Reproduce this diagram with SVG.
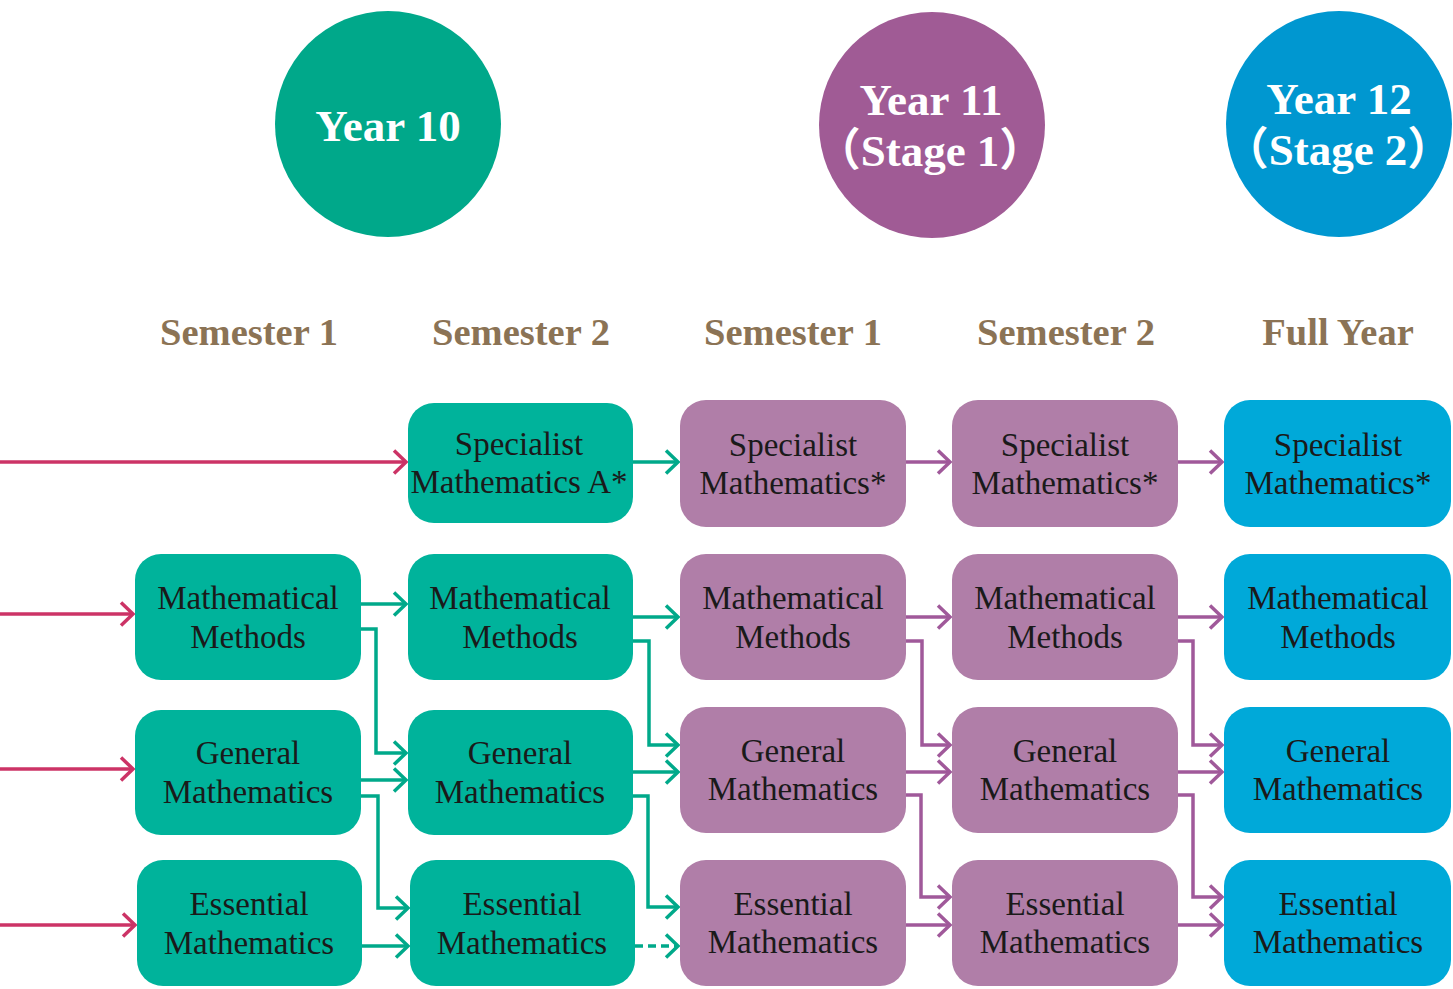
<svg xmlns="http://www.w3.org/2000/svg" width="1453" height="989" viewBox="0 0 1453 989">
<style>
.hdr{font-family:"Liberation Serif","Noto Sans CJK SC",serif;font-weight:bold;font-size:38.5px;fill:#8B7355;text-anchor:middle}
.yr{font-family:"Liberation Serif","Noto Sans CJK SC",serif;font-weight:bold;font-size:45px;fill:#ffffff;text-anchor:middle}
.bt{font-family:"Liberation Serif",serif;font-size:33px;fill:#1a1a1a;text-anchor:middle}
.g{fill:#00B39B}
.p{fill:#B07EA8}
.b{fill:#00A9D9}
.cr{fill:none;stroke:#CC3366;stroke-width:3.5;marker-end:url(#ar)}
.cg{fill:none;stroke:#00A98A;stroke-width:3.5;marker-end:url(#ag)}
.cp{fill:none;stroke:#A0599A;stroke-width:3.5;marker-end:url(#ap)}
</style>
<defs>
<marker id="ar" viewBox="0 0 16 26" refX="14" refY="13" markerWidth="16" markerHeight="26" markerUnits="userSpaceOnUse" orient="auto"><path d="M2,1.5 L14,13 L2,24.5" fill="none" stroke="#CC3366" stroke-width="3.5"/></marker>
<marker id="ag" viewBox="0 0 16 26" refX="14" refY="13" markerWidth="16" markerHeight="26" markerUnits="userSpaceOnUse" orient="auto"><path d="M2,1.5 L14,13 L2,24.5" fill="none" stroke="#00A98A" stroke-width="3.5"/></marker>
<marker id="ap" viewBox="0 0 16 26" refX="14" refY="13" markerWidth="16" markerHeight="26" markerUnits="userSpaceOnUse" orient="auto"><path d="M2,1.5 L14,13 L2,24.5" fill="none" stroke="#A0599A" stroke-width="3.5"/></marker>
</defs>
<rect width="1453" height="989" fill="#ffffff"/>

<g id="year10"><circle cx="388" cy="124" r="113" fill="#00A88A"/><text class="yr" x="388" y="141">Year 10</text></g>
<g id="year11"><circle cx="932" cy="125" r="113" fill="#A05B95"/><text class="yr" x="931" y="115">Year 11</text><text class="yr" x="930" y="166">（Stage 1）</text></g>
<g id="year12"><circle cx="1339" cy="124" r="113" fill="#0097D0"/><text class="yr" x="1339" y="114">Year 12</text><text class="yr" x="1338" y="165">（Stage 2）</text></g>

<g id="headers">
<text class="hdr" x="249" y="345">Semester 1</text>
<text class="hdr" x="521" y="345">Semester 2</text>
<text class="hdr" x="793" y="345">Semester 1</text>
<text class="hdr" x="1066" y="345">Semester 2</text>
<text class="hdr" x="1338" y="345">Full Year</text>
</g>

<g id="connectors">
<path class="cr" d="M0,462 H406"/>
<path class="cr" d="M0,614 H133"/>
<path class="cr" d="M0,769 H133"/>
<path class="cr" d="M0,925 H135"/>

<path class="cg" d="M361,604 H406"/>
<path class="cg" d="M361,629 H376 V753 H406"/>
<path class="cg" d="M361,780 H406"/>
<path class="cg" d="M361,796 H378 V908 H408"/>
<path class="cg" d="M362,946 H408"/>

<path class="cg" d="M633,462 H678"/>
<path class="cg" d="M633,617 H678"/>
<path class="cg" d="M633,641 H649 V745 H678"/>
<path class="cg" d="M633,772 H678"/>
<path class="cg" d="M633,796 H648 V907 H678"/>
<path class="cg" d="M635,946 H678" stroke-dasharray="8,5"/>

<path class="cp" d="M906,462 H950"/>
<path class="cp" d="M906,617 H950"/>
<path class="cp" d="M906,641 H922 V745 H950"/>
<path class="cp" d="M906,772 H950"/>
<path class="cp" d="M906,795 H921 V897 H950"/>
<path class="cp" d="M906,925 H950"/>

<path class="cp" d="M1178,462 H1222"/>
<path class="cp" d="M1178,617 H1222"/>
<path class="cp" d="M1178,641 H1193 V745 H1222"/>
<path class="cp" d="M1178,772 H1222"/>
<path class="cp" d="M1178,795 H1193 V897 H1222"/>
<path class="cp" d="M1178,925 H1222"/>
</g>

<g id="c1-methods"><rect class="g" x="135" y="554" width="226" height="126" rx="26"/><text class="bt" x="248" y="609">Mathematical</text><text class="bt" x="248" y="648">Methods</text></g>
<g id="c1-general"><rect class="g" x="135" y="710" width="226" height="125" rx="26"/><text class="bt" x="248" y="764">General</text><text class="bt" x="248" y="803">Mathematics</text></g>
<g id="c1-essential"><rect class="g" x="137" y="860" width="225" height="126" rx="26"/><text class="bt" x="249" y="915">Essential</text><text class="bt" x="249" y="954">Mathematics</text></g>

<g id="c2-specialist"><rect class="g" x="408" y="403" width="225" height="120" rx="26"/><text class="bt" x="519" y="455">Specialist</text><text class="bt" x="519" y="493">Mathematics A*</text></g>
<g id="c2-methods"><rect class="g" x="408" y="554" width="225" height="126" rx="26"/><text class="bt" x="520" y="609">Mathematical</text><text class="bt" x="520" y="648">Methods</text></g>
<g id="c2-general"><rect class="g" x="408" y="710" width="225" height="125" rx="26"/><text class="bt" x="520" y="764">General</text><text class="bt" x="520" y="803">Mathematics</text></g>
<g id="c2-essential"><rect class="g" x="410" y="860" width="225" height="126" rx="26"/><text class="bt" x="522" y="915">Essential</text><text class="bt" x="522" y="954">Mathematics</text></g>

<g id="c3-specialist"><rect class="p" x="680" y="400" width="226" height="127" rx="26"/><text class="bt" x="793" y="456">Specialist</text><text class="bt" x="793" y="494">Mathematics*</text></g>
<g id="c3-methods"><rect class="p" x="680" y="554" width="226" height="126" rx="26"/><text class="bt" x="793" y="609">Mathematical</text><text class="bt" x="793" y="648">Methods</text></g>
<g id="c3-general"><rect class="p" x="680" y="707" width="226" height="126" rx="26"/><text class="bt" x="793" y="762">General</text><text class="bt" x="793" y="800">Mathematics</text></g>
<g id="c3-essential"><rect class="p" x="680" y="860" width="226" height="126" rx="26"/><text class="bt" x="793" y="915">Essential</text><text class="bt" x="793" y="953">Mathematics</text></g>

<g id="c4-specialist"><rect class="p" x="952" y="400" width="226" height="127" rx="26"/><text class="bt" x="1065" y="456">Specialist</text><text class="bt" x="1065" y="494">Mathematics*</text></g>
<g id="c4-methods"><rect class="p" x="952" y="554" width="226" height="126" rx="26"/><text class="bt" x="1065" y="609">Mathematical</text><text class="bt" x="1065" y="648">Methods</text></g>
<g id="c4-general"><rect class="p" x="952" y="707" width="226" height="126" rx="26"/><text class="bt" x="1065" y="762">General</text><text class="bt" x="1065" y="800">Mathematics</text></g>
<g id="c4-essential"><rect class="p" x="952" y="860" width="226" height="126" rx="26"/><text class="bt" x="1065" y="915">Essential</text><text class="bt" x="1065" y="953">Mathematics</text></g>

<g id="c5-specialist"><rect class="b" x="1224" y="400" width="227" height="127" rx="26"/><text class="bt" x="1338" y="456">Specialist</text><text class="bt" x="1338" y="494">Mathematics*</text></g>
<g id="c5-methods"><rect class="b" x="1224" y="554" width="227" height="126" rx="26"/><text class="bt" x="1338" y="609">Mathematical</text><text class="bt" x="1338" y="648">Methods</text></g>
<g id="c5-general"><rect class="b" x="1224" y="707" width="227" height="126" rx="26"/><text class="bt" x="1338" y="762">General</text><text class="bt" x="1338" y="800">Mathematics</text></g>
<g id="c5-essential"><rect class="b" x="1224" y="860" width="227" height="126" rx="26"/><text class="bt" x="1338" y="915">Essential</text><text class="bt" x="1338" y="953">Mathematics</text></g>
</svg>
